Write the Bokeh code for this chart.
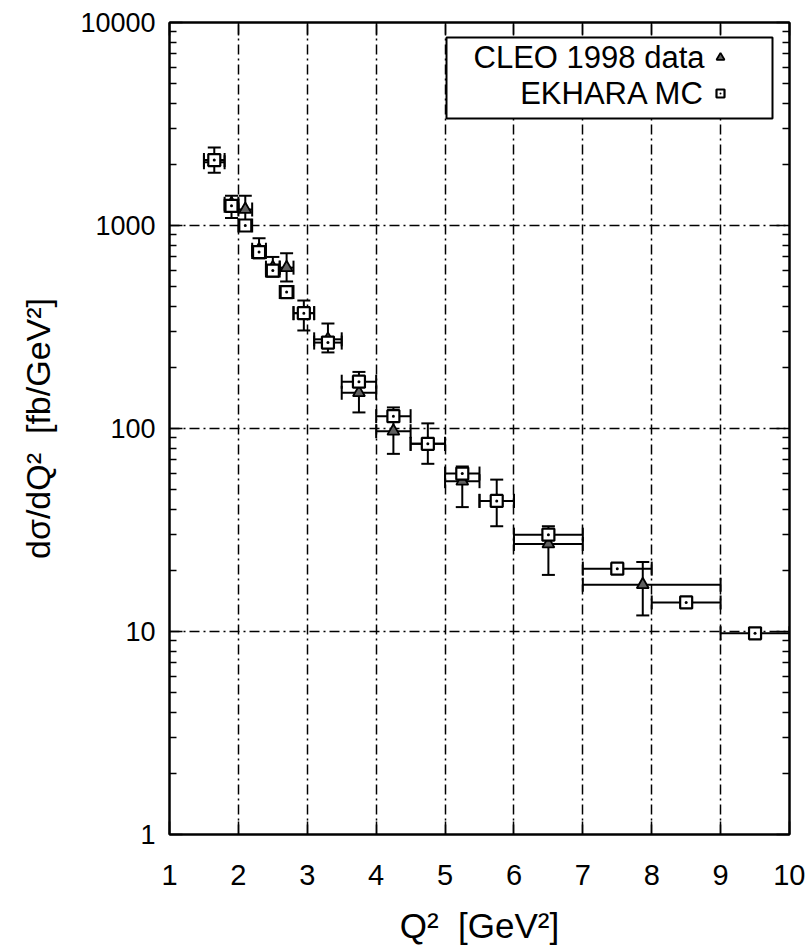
from bokeh.plotting import figure
from bokeh.models import (ColumnDataSource, Whisker, TeeHead, FixedTicker, LinearAxis, LogAxis,
                          BoxAnnotation, Label, Legend, LegendItem, CustomJSTickFormatter)
from bokeh.embed import file_html
from bokeh.resources import INLINE

# ---- data ----
cleo_x = [1.65, 1.9, 2.1, 2.3, 2.5, 2.7, 2.95, 3.3, 3.75, 4.25, 4.75, 5.25, 5.75, 6.5, 7.87]
cleo_xlo = [1.5, 1.8, 2.0, 2.2, 2.4, 2.6, 2.8, 3.1, 3.5, 4.0, 4.5, 5.0, 5.5, 6.0, 7.0]
cleo_xhi = [1.8, 2.0, 2.2, 2.4, 2.6, 2.8, 3.1, 3.5, 4.0, 4.5, 5.0, 5.5, 6.0, 7.0, 9.0]
cleo_y = [2050, 1280, 1200, 760, 620, 620, 370, 275, 150, 97, 84, 55, 44, 27, 17]
cleo_ylo = [1820, 1090, 1000, 690, 560, 530, 304, 237, 120, 75, 67, 41, 33, 19, 12]
cleo_yhi = [2420, 1400, 1400, 865, 700, 730, 427, 329, 190, 127, 106, 65, 56, 33, 22]

ek_x = [1.65, 1.9, 2.1, 2.3, 2.5, 2.7, 2.95, 3.3, 3.75, 4.25, 4.75, 5.25, 5.75, 6.5, 7.5, 8.5, 9.5]
ek_xlo = [1.5, 1.8, 2.0, 2.2, 2.4, 2.6, 2.8, 3.1, 3.5, 4.0, 4.5, 5.0, 5.5, 6.0, 7.0, 8.0, 9.0]
ek_xhi = [1.8, 2.0, 2.2, 2.4, 2.6, 2.8, 3.1, 3.5, 4.0, 4.5, 5.0, 5.5, 6.0, 7.0, 8.0, 9.0, 10.0]
ek_y = [2100, 1250, 1000, 740, 600, 470, 370, 265, 170, 115, 84, 60, 44, 30, 20.4, 13.9, 9.8]
ek_ylo = [2010, 1190, 955, 705, 572, 448, 352, 252, 161, 109, 80, 57, 42, 28.5, 19.5, 13.3, 9.4]
ek_yhi = [2190, 1310, 1045, 775, 628, 492, 388, 278, 179, 121, 88, 63, 46, 31.5, 21.3, 14.5, 10.2]

x_ticks = [1, 2, 3, 4, 5, 6, 7, 8, 9, 10]
y_ticks = [1, 10, 100, 1000, 10000]
y_tick_labels = ["1", "10", "100", "1000", "10000"]
y_minor = [m * 10 ** d for d in range(0, 4) for m in range(2, 10)]

FONT = "Liberation Sans"
NB = "\u00a0"

cleo = ColumnDataSource(dict(x=cleo_x, xlo=cleo_xlo, xhi=cleo_xhi, y=cleo_y, ylo=cleo_ylo, yhi=cleo_yhi))
ek = ColumnDataSource(dict(x=ek_x, xlo=ek_xlo, xhi=ek_xhi, y=ek_y, ylo=ek_ylo, yhi=ek_yhi))

p = figure(y_axis_type="log", x_range=(1, 10), y_range=(1, 10000),
           frame_width=620, frame_height=812,
           min_border_left=169, min_border_top=22, min_border_right=16, min_border_bottom=105,
           output_backend="svg", toolbar_location=None)
p.outline_line_color = "black"
p.outline_line_width = 2
p.background_fill_color = "white"
p.border_fill_color = "white"

# grids
for g in (p.xgrid, p.ygrid):
    g.grid_line_color = "black"
    g.grid_line_dash = "10 4 2 4"
    g.grid_line_width = 1.5
    g.grid_line_alpha = 1.0
p.xgrid.ticker = FixedTicker(ticks=x_ticks)
p.ygrid.ticker = FixedTicker(ticks=y_ticks)

# axes
xa = p.xaxis[0]
xa.ticker = FixedTicker(ticks=x_ticks)
xa.major_tick_in = 13
xa.major_tick_out = 0
xa.minor_tick_in = 0
xa.minor_tick_out = 0
xa.major_tick_line_width = 1.5
xa.axis_line_width = 2
xa.major_label_text_font = FONT
xa.major_label_text_font_size = "29px"
xa.major_label_text_color = "black"
xa.major_label_standoff = 30
xa.axis_label = "Q²" + NB + NB + "[GeV²]"
xa.axis_label_text_font = FONT
xa.axis_label_text_font_size = "35px"
xa.axis_label_text_font_style = "normal"
xa.axis_label_text_color = "black"
xa.axis_label_standoff = 18

ya = p.yaxis[0]
ya.ticker = FixedTicker(ticks=y_ticks, minor_ticks=y_minor)
ya.major_label_overrides = {t: l for t, l in zip(y_ticks, y_tick_labels)}
ya.major_tick_in = 13
ya.major_tick_out = 0
ya.minor_tick_in = 7
ya.minor_tick_out = 0
ya.major_tick_line_width = 1.5
ya.minor_tick_line_width = 1.5
ya.axis_line_width = 2
ya.major_label_text_font = FONT
ya.major_label_text_font_size = "27px"
ya.major_label_text_color = "black"
ya.major_label_standoff = 14
ya.axis_label = "dσ/dQ²" + NB + NB + "[fb/GeV²]"
ya.axis_label_text_font = FONT
ya.axis_label_text_font_size = "34px"
ya.axis_label_text_font_style = "normal"
ya.axis_label_text_color = "black"
ya.axis_label_standoff = 20

blank = CustomJSTickFormatter(code="return ''")
top = LinearAxis(ticker=FixedTicker(ticks=x_ticks), formatter=blank, major_tick_in=13, major_tick_out=0,
                 minor_tick_in=0, minor_tick_out=0, major_label_standoff=0,
                 axis_line_width=2, major_tick_line_width=1.5)
p.add_layout(top, "above")
right = LogAxis(ticker=FixedTicker(ticks=y_ticks, minor_ticks=y_minor), formatter=blank,
                major_tick_in=13, major_tick_out=0, minor_tick_in=7, minor_tick_out=0,
                major_label_standoff=0, axis_line_width=2, major_tick_line_width=1.5,
                minor_tick_line_width=1.5)
p.add_layout(right, "right")

# error bars
def bars(src, vcap, hcap, lw):
    p.add_layout(Whisker(source=src, base="y", lower="xlo", upper="xhi", dimension="width",
                         line_width=lw, line_color="black",
                         lower_head=TeeHead(size=hcap, line_width=lw, line_color="black"),
                         upper_head=TeeHead(size=hcap, line_width=lw, line_color="black")))
    p.add_layout(Whisker(source=src, base="x", lower="ylo", upper="yhi", dimension="height",
                         line_width=lw, line_color="black",
                         lower_head=TeeHead(size=vcap, line_width=lw, line_color="black"),
                         upper_head=TeeHead(size=vcap, line_width=lw, line_color="black")))

bars(cleo, 13, 14, 2)
bars(ek, 9, 14, 2)

r_cleo = p.scatter("x", "y", source=cleo, marker="triangle", size=12, fill_color="#606060",
                   line_color="black", line_width=1.8)
r_ek = p.scatter("x", "y", source=ek, marker="square_dot", size=12, fill_color="white",
                 line_color="black", line_width=2.2)

# legend box (screen units, relative to the frame)
box = BoxAnnotation(left=277, right=603, top=797, bottom=716,
                    left_units="screen", right_units="screen", top_units="screen", bottom_units="screen",
                    fill_color="white", fill_alpha=1.0, line_color="black", line_alpha=1.0, line_width=2)
p.add_layout(box)
for txt, yy in (("CLEO 1998 data", 777), ("EKHARA MC", 741)):
    p.add_layout(Label(x=535, y=yy, x_units="screen", y_units="screen", text=txt,
                       text_align="right", text_baseline="middle", text_font=FONT,
                       text_font_size="31px", text_color="black"))

leg = Legend(items=[LegendItem(label=" ", renderers=[r_cleo]), LegendItem(label=" ", renderers=[r_ek])],
             location=(540, 731), padding=0, margin=0, spacing=16, glyph_width=22, glyph_height=20,
             label_height=20, label_standoff=0,
             border_line_color=None, background_fill_alpha=0.0)
p.add_layout(leg, "center")

open("out.html", "w").write(file_html(p, INLINE))
